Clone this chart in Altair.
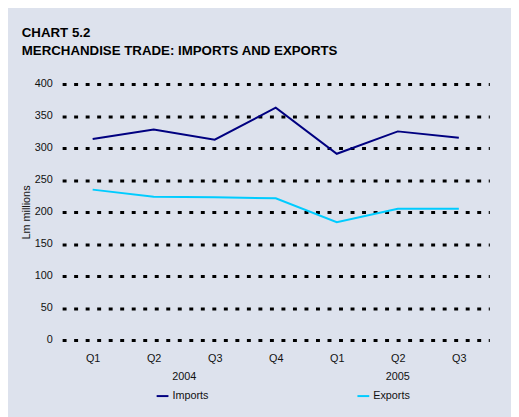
import altair as alt
import pandas as pd

quarters = ["Q1", "Q2", "Q3", "Q4", "Q1", "Q2", "Q3"]
years = ["2004", "2004", "2004", "2004", "2005", "2005", "2005"]
imports = [314, 329, 313, 363, 291, 326, 316]
exports = [235, 224, 223, 221.5, 184, 205, 205]
series_names = ["Imports", "Exports"]
series_colors = ["#000080", "#00CCFF"]
y_ticks = [0, 50, 100, 150, 200, 250, 300, 350, 400]

rows = []
for i in range(len(quarters)):
    rows.append({"idx": i, "series": "Imports", "value": imports[i]})
    rows.append({"idx": i, "series": "Exports", "value": exports[i]})
df = pd.DataFrame(rows)
year_df = pd.DataFrame({"idx": list(range(len(quarters))), "year": years})

FONT = "Liberation Sans"
TXT = "#111111"
label_expr = "[" + ",".join("'%s'" % q for q in quarters) + "][datum.value]"

x_scale = alt.Scale(domain=[-0.5, len(quarters) - 0.5], nice=False, zero=False)
y_scale = alt.Scale(domain=[0, 400], nice=False)

lines = alt.Chart(df).mark_line(strokeWidth=2).encode(
    x=alt.X("idx:Q", scale=x_scale,
            axis=alt.Axis(title=None, values=list(range(len(quarters))), labelExpr=label_expr,
                          domain=False, ticks=False, grid=False, labelPadding=13,
                          labelFontSize=11, labelColor=TXT, labelFont=FONT)),
    y=alt.Y("value:Q", scale=y_scale,
            axis=alt.Axis(title="Lm millions", values=y_ticks, domain=False, ticks=False,
                          grid=True, gridColor="#000000", gridWidth=3, gridDash=[4, 7.7],
                          labelPadding=10, labelFontSize=11, labelColor=TXT, labelFont=FONT,
                          titleFont=FONT, titleFontSize=11, titleFontWeight="normal",
                          titleColor=TXT, titlePadding=3)),
    color=alt.Color("series:N", scale=alt.Scale(domain=series_names, range=series_colors),
                    legend=alt.Legend(title=None, orient="none", legendX=95, legendY=310,
                                      direction="horizontal", columns=2, columnPadding=147,
                                      symbolType="stroke", symbolSize=144, symbolStrokeWidth=2,
                                      labelOffset=3, labelFontSize=11, labelFont=FONT,
                                      labelColor=TXT)),
    order=alt.Order("idx:Q"),
)

year_text = alt.Chart(year_df).transform_aggregate(
    mid="mean(idx)", groupby=["year"]
).mark_text(font=FONT, fontSize=11, color=TXT, baseline="alphabetic").encode(
    x=alt.X("mid:Q", scale=x_scale),
    y=alt.value(301),
    text="year:N",
)

chart = alt.layer(lines, year_text).properties(
    width=434,
    height=260,
    padding={"left": 55, "top": 74, "right": 22, "bottom": 75},
    autosize=alt.AutoSizeParams(type="none"),
    background="#DDE2ED",
    title=alt.TitleParams(
        text=["CHART 5.2", "MERCHANDISE TRADE: IMPORTS AND EXPORTS"],
        anchor="start", frame="group", dx=-41, font=FONT, fontSize=13.5,
        fontWeight="bold", color="#000", lineHeight=18.5, offset=21,
    ),
).configure_view(stroke=None)

chart.save("out.html", embed_options={"renderer": "svg", "actions": False})
